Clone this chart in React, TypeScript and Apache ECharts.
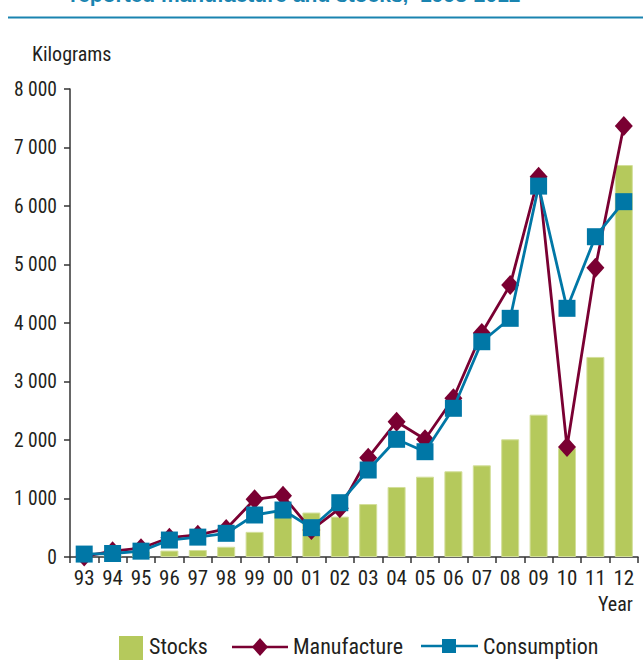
import React, { useEffect, useRef } from "react";
import * as echarts from "echarts";

const years = ["93","94","95","96","97","98","99","00","01","02","03","04","05","06","07","08","09","10","11","12"];
const stocks = [20, 40, 90, 110, 120, 175, 430, 780, 760, 690, 905, 1197, 1373, 1465, 1567, 2012, 2433, 1860, 3420, 6700];
const manufacture = [10, 100, 150, 330, 380, 480, 986, 1048, 462, 832, 1697, 2313, 2012, 2713, 3829, 4650, 6500, 1880, 4945, 7368];
const consumption = [50, 60, 100, 290, 340, 405, 718, 803, 501, 928, 1487, 2012, 1800, 2542, 3680, 4080, 6340, 4251, 5475, 6074];
const yTicks = [0, 1000, 2000, 3000, 4000, 5000, 6000, 7000, 8000];

const FONT = "'Liberation Sans Narrow', 'Roboto Condensed', 'Arial Narrow', Roboto, sans-serif";
const BAR = "#b5c95c";
const MAN = "#7a0032";
const CON = "#0077a6";
const TXT = "#231f20";

export default function App() {
  const ref = useRef<HTMLDivElement>(null);
  useEffect(() => {
    if (!ref.current) return;
    const chart = echarts.init(ref.current, undefined, { renderer: "svg" });
    chart.setOption({
      animation: false,
      backgroundColor: "#ffffff",
      textStyle: { fontFamily: FONT },
      grid: { left: 70, right: 5, top: 89, bottom: 112, containLabel: false },
      xAxis: {
        type: "category",
        data: years,
        boundaryGap: true,
        axisLine: { lineStyle: { color: "#333", width: 1.5 } },
        axisTick: { show: true, length: 6, lineStyle: { color: "#333", width: 1.5 } },
        axisLabel: { color: TXT, fontSize: 21, margin: 10, fontFamily: FONT },
      },
      yAxis: {
        type: "value",
        min: yTicks[0],
        max: yTicks[yTicks.length - 1],
        interval: 1000,
        splitLine: { show: false },
        axisLine: { show: true, lineStyle: { color: "#333", width: 1.5 } },
        axisTick: { show: true, length: 6, lineStyle: { color: "#333", width: 1.5 } },
        axisLabel: {
          color: TXT,
          fontSize: 19.5,
          margin: 13,
          fontFamily: FONT,
          formatter: (v: number) => String(v).replace(/\B(?=(\d{3})+(?!\d))/g, " "),
        },
      },
      series: [
        {
          name: "Stocks",
          type: "bar",
          data: stocks,
          barWidth: 18,
          itemStyle: { color: BAR, borderColor: "#d3df9a", borderWidth: 1 },
          z: 1,
        },
        {
          name: "Manufacture",
          type: "line",
          data: manufacture,
          symbol: "diamond",
          symbolSize: [18, 20],
          lineStyle: { color: MAN, width: 2.8 },
          itemStyle: { color: MAN },
          z: 3,
        },
        {
          name: "Consumption",
          type: "line",
          data: consumption,
          symbol: "rect",
          symbolSize: 17,
          lineStyle: { color: CON, width: 2.8 },
          itemStyle: { color: CON },
          z: 4,
        },
      ],
      graphic: [
        { type: "text", left: 70, top: -16, style: { text: "reported manufacture and stocks,  1993-2012", fontSize: 21, fontWeight: "bold", fill: "#1a84b0", fontFamily: "'Liberation Sans', Arial, sans-serif" } },
        { type: "line", shape: { x1: 8, y1: 17.5, x2: 643, y2: 17.5 }, style: { stroke: "#1a84b0", lineWidth: 2 } },
        { type: "text", left: 32, top: 44, style: { text: "Kilograms", fontSize: 20, fill: TXT, fontFamily: FONT } },
        { type: "text", left: 598, top: 594, style: { text: "Year", fontSize: 20, fill: TXT, fontFamily: FONT } },
        { type: "rect", shape: { x: 119, y: 636, width: 24, height: 24 }, style: { fill: BAR } },
        { type: "text", left: 149, top: 635, style: { text: "Stocks", fontSize: 22, fill: TXT, fontFamily: FONT } },
        { type: "line", shape: { x1: 232, y1: 647, x2: 288, y2: 647 }, style: { stroke: MAN, lineWidth: 2.5 } },
        { type: "polygon", shape: { points: [[260, 638], [268, 647], [260, 656], [252, 647]] }, style: { fill: MAN } },
        { type: "text", left: 293, top: 635, style: { text: "Manufacture", fontSize: 22, fill: TXT, fontFamily: FONT } },
        { type: "line", shape: { x1: 421, y1: 646, x2: 478, y2: 646 }, style: { stroke: CON, lineWidth: 2.5 } },
        { type: "rect", shape: { x: 442, y: 639, width: 14, height: 14 }, style: { fill: CON } },
        { type: "text", left: 483, top: 635, style: { text: "Consumption", fontSize: 22, fill: TXT, fontFamily: FONT } },
      ],
    });
    return () => chart.dispose();
  }, []);
  return <div ref={ref} style={{ width: 643, height: 669, position: "absolute", left: 0, top: 0 }} />;
}
